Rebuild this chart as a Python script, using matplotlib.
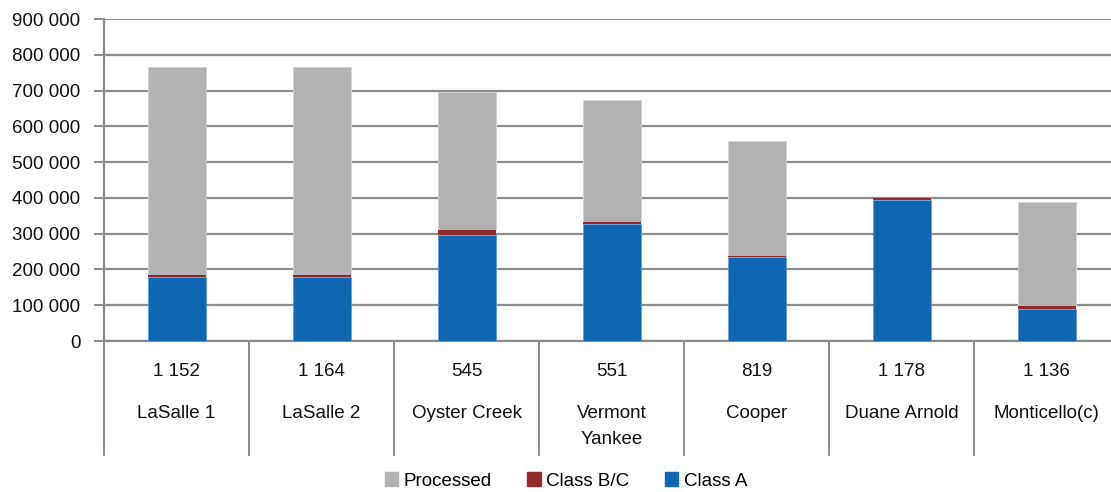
import matplotlib
matplotlib.use("Agg")
import matplotlib.pyplot as plt
from matplotlib.patches import Patch
from matplotlib.ticker import FuncFormatter, MultipleLocator
import matplotlib.transforms as mtransforms

plt.rcParams['font.family'] = ['Liberation Sans Narrow', 'Liberation Sans', 'DejaVu Sans']

# Plants and their net capacity (MWe)
plants = ["LaSalle 1", "LaSalle 2", "Oyster Creek", "Vermont\nYankee",
          "Cooper", "Duane Arnold", "Monticello(c)"]
capacity = ["1 152", "1 164", "545", "551", "819", "1 178", "1 136"]

# Waste volumes per class
class_a = [178000, 179000, 297000, 328000, 234000, 395000, 90000]
class_bc = [6000, 5000, 12000, 5000, 4000, 5000, 9000]
processed = [582000, 582000, 386000, 340000, 320000, 0, 289000]

c_proc = "#B2B2B2"
c_bc = "#922B2B"
c_a = "#0E67B0"
grid_c = "#8C8C8C"
txt_c = "#111111"
fs = 13.5

W, H = 1111, 492
fig = plt.figure(figsize=(W / 100, H / 100), dpi=100)
ax_left, ax_bottom, ax_top = 104, 341, 19
cat_w = 145
n = len(plants)
ax = fig.add_axes([ax_left / W, (H - ax_bottom) / H,
                   n * cat_w / W, (ax_bottom - ax_top) / H])

x = list(range(n))
bw = 0.4
bottom_bc = class_a
bottom_proc = [a + b for a, b in zip(class_a, class_bc)]
ax.bar(x, class_a, width=bw, color=c_a, edgecolor="#5A9BD5", linewidth=0.5, zorder=3)
ax.bar(x, processed, width=bw, bottom=bottom_proc, color=c_proc,
       edgecolor="#D4D4D4", linewidth=0.7, zorder=3)
ax.bar(x, class_bc, width=bw, bottom=bottom_bc, color=c_bc, linewidth=0, zorder=4)

ax.set_xlim(-0.5, n - 0.5)
ax.set_ylim(0, 900000)
ax.yaxis.set_major_locator(MultipleLocator(100000))
ax.yaxis.set_major_formatter(FuncFormatter(lambda v, p: f"{int(v):,}".replace(",", " ")))
ax.grid(axis="y", color=grid_c, linewidth=1.6, zorder=0)
ax.set_axisbelow(True)
for s in ["top", "right"]:
    ax.spines[s].set_visible(False)
for s in ["left", "bottom"]:
    ax.spines[s].set_color(grid_c)
    ax.spines[s].set_linewidth(1.6)
ax.tick_params(axis="y", length=7, width=1.4, color=grid_c, pad=10,
               labelsize=fs, labelcolor=txt_c)
ax.set_xticks([])

# Category table beneath the axis
trans = mtransforms.blended_transform_factory(ax.transData, ax.transAxes)
ax_h = ax_bottom - ax_top
table_bottom = -(455 - ax_bottom) / ax_h
for k in range(n + 1):
    ax.plot([k - 0.5, k - 0.5], [0, table_bottom], color=grid_c, linewidth=1.4,
            transform=trans, clip_on=False)
for i in range(n):
    ax.text(i, -(371 - ax_bottom) / ax_h, capacity[i], transform=trans,
            ha="center", va="center", fontsize=fs, color=txt_c)
    ax.text(i, -(405 - ax_bottom) / ax_h, plants[i], transform=trans,
            ha="center", va="top", fontsize=fs, color=txt_c,
            linespacing=1.7)

handles = [Patch(color=c_proc, label="Processed"),
           Patch(color=c_bc, label="Class B/C"),
           Patch(color=c_a, label="Class A")]
fig.legend(handles=handles, loc="center", bbox_to_anchor=(566 / W, 1 - 481 / H),
           ncol=3, frameon=False, fontsize=fs, handlelength=0.7,
           handleheight=0.7, handletextpad=0.3, columnspacing=1.9)

fig.savefig("out.png", dpi=100)
